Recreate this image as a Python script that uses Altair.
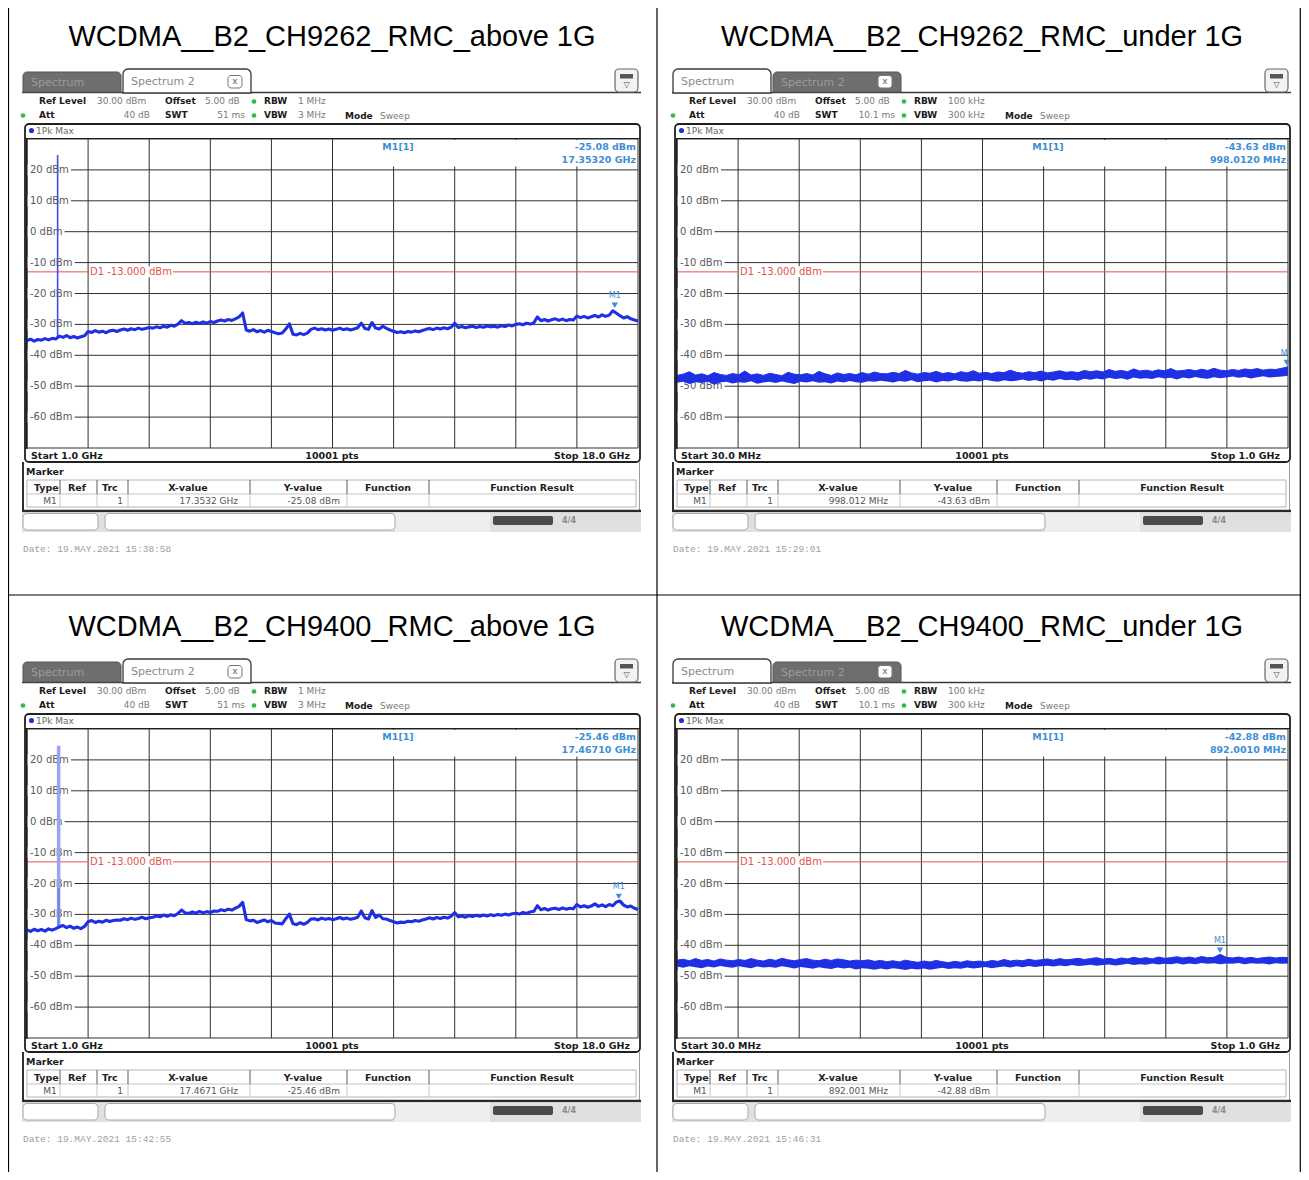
import altair as alt
import numpy as np
import pandas as pd

# ------------------------------------------------------------------ data
TITLES = ["WCDMA__B2_CH9262_RMC_above 1G", "WCDMA__B2_CH9262_RMC_under 1G",
          "WCDMA__B2_CH9400_RMC_above 1G", "WCDMA__B2_CH9400_RMC_under 1G"]
GRID_DBM = [30, 20, 10, 0, -10, -20, -30, -40, -50, -60, -70]
DBM_TICKS = [20, 10, 0, -10, -20, -30, -40, -50, -60]
LIMIT_DBM = -13.0

# Trace (1Pk Max) above 1 GHz, 1.0 .. 18.0 GHz, dBm
ABOVE_9262 = [
    -35.2, -34.8, -35.4, -34.9, -35.1, -34.6, -35.0, -34.5, -34.7,
    -33.8, -34.2, -33.6, -34.3, -33.9, -34.4, -34.0, -33.7,
    -32.3, -32.6, -32.0, -32.5, -32.2, -32.7, -32.1, -31.9, -32.3,
    -31.8, -31.5, -31.9, -31.4, -31.7, -31.2, -31.6, -31.3, -31.0,
    -31.2, -30.8, -31.1, -30.6, -30.9,
    -30.3, -30.6, -29.9, -28.8, -29.6,
    -29.4, -29.8, -29.3, -29.7, -29.2, -29.6, -29.1, -29.4,
    -28.9, -28.6, -28.9, -28.4, -28.7, -28.2, -27.6,
    -26.3,
    -31.8, -32.2, -31.7, -32.4, -32.0, -32.5, -31.9, -32.3, -32.7,
    -33.0, -32.8, -31.5,
    -29.8,
    -33.2, -33.4, -32.9, -33.3, -32.8, -31.6,
    -31.2, -31.7, -31.4, -31.8, -31.5, -31.9,
    -31.6, -31.2, -31.7, -31.4, -31.8, -31.5, -31.1,
    -29.6, -31.3, -31.6, -29.4, -31.2, -31.5, -30.6,
    -31.3, -31.8, -32.2, -32.6, -32.4, -32.7, -32.3, -32.5, -32.1,
    -32.4, -32.0, -31.6, -31.3, -31.7, -31.2, -31.5, -31.1,
    -31.4, -30.9, -29.6,
    -31.0, -30.7, -31.1, -30.8, -30.6, -31.0, -30.7, -30.9, -30.5, -30.8,
    -30.6, -30.9, -30.4, -30.7, -30.2, -30.5,
    -30.0, -29.8, -30.1, -29.6, -29.9, -29.5,
    -27.6,
    -28.8, -28.4, -28.9, -28.5, -28.2, -28.7, -28.3, -28.8, -28.4, -28.6, -27.3,
    -27.8, -27.4, -27.9, -27.5, -27.1, -27.6, -26.9,
    -27.4, -27.0, -25.6, -26.4,
    -27.2, -27.9, -27.5, -28.2, -28.6, -28.9,
]
ABOVE_9400 = [
    -35.0, -35.5, -34.8, -35.3, -34.9, -35.4, -34.7, -35.1, -34.6,
    -34.0, -33.6, -34.3, -33.8, -34.5, -34.1, -34.6, -33.9,
    -32.4, -32.0, -32.6, -32.2, -32.5, -31.9, -32.3, -32.0, -31.8,
    -31.9, -31.4, -31.7, -31.2, -31.6, -31.3, -30.9, -31.4, -31.1,
    -30.9, -30.5, -30.8, -30.2, -30.6,
    -30.1, -30.4, -29.7, -28.6, -29.5,
    -29.7, -29.2, -29.6, -29.0, -29.5, -29.1, -29.4, -28.9,
    -29.0, -28.5, -28.8, -28.3, -28.6, -28.0, -27.4,
    -26.1,
    -31.7, -32.1, -31.9, -32.6, -32.2, -31.8, -32.4, -32.0, -32.8,
    -32.9, -33.1, -31.4,
    -29.9,
    -33.0, -33.3, -32.7, -33.2, -32.6, -31.5,
    -31.4, -31.8, -31.2, -31.6, -31.3, -31.7,
    -31.4, -31.0, -31.5, -31.2, -31.6, -31.3, -30.9,
    -28.9, -31.1, -31.5, -28.8, -31.0, -30.2, -31.4,
    -31.5, -32.0, -32.4, -32.8, -32.5, -32.6, -32.2, -32.4, -32.0,
    -32.2, -31.8, -31.5, -31.1, -31.5, -31.0, -31.3, -30.9,
    -31.2, -30.6, -29.4,
    -30.8, -30.5, -30.9, -30.4, -30.7, -30.3, -30.6, -30.2, -30.5, -30.1,
    -30.4, -30.0, -30.3, -29.9, -30.2, -29.8,
    -29.6, -29.9, -29.4, -29.7, -29.2, -29.0,
    -27.2,
    -28.5, -28.1, -28.6, -28.2, -28.0, -28.4, -27.9, -28.3, -28.0, -28.2, -26.8,
    -27.6, -27.2, -27.7, -27.3, -26.6, -27.4, -26.9,
    -27.5, -26.8, -27.2, -26.0,
    -25.7, -27.0, -27.6, -27.3, -28.0, -28.4,
]
# Trace envelopes under 1 GHz, 30 .. 1000 MHz, dBm (upper / lower edge of the noise band)
UNDER_HI_9262 = [
    -46.5, -46.1, -45.3, -46.4, -46.0, -46.6, -45.6, -46.2, -46.5, -45.9,
    -46.3, -45.1, -46.4, -46.0, -46.5, -45.8, -46.2, -46.6, -45.5, -46.1,
    -46.3, -45.9, -46.4, -45.2, -46.0, -46.5, -45.7, -46.2, -45.9, -46.3,
    -45.6, -46.1, -45.4, -45.9,
    -46.0, -45.5, -45.9, -44.9, -45.7, -46.1, -45.6, -45.8, -45.2, -45.9,
    -45.6, -46.0, -45.3, -45.7, -45.0, -45.8, -45.5, -45.9, -45.4, -45.6,
    -44.8, -45.5, -45.8, -45.3, -45.6, -45.1, -45.7, -45.4, -45.0, -45.5,
    -45.3, -45.6, -44.9,
    -45.3, -45.0, -45.4, -44.6, -45.2, -44.9, -45.3, -44.4, -45.1, -44.8,
    -45.2, -44.7, -45.0, -44.3, -45.1, -44.9, -44.6, -45.0, -44.5, -44.9,
    -44.2, -44.8, -45.0, -44.6, -44.9, -44.4, -44.7, -44.3, -44.8, -44.5,
    -44.6, -44.2, -43.7,
]
UNDER_LO_9262 = [
    -48.9, -48.6, -49.3, -48.7, -49.0, -48.5, -49.5, -48.8, -48.6, -49.1,
    -48.7, -48.9, -48.4, -49.2, -48.8, -48.6, -49.0, -48.5, -48.9, -49.3,
    -48.6, -48.8, -48.4, -48.9, -48.7, -49.1, -48.5, -48.8, -48.3, -48.7,
    -48.9, -48.4, -48.6, -48.2,
    -48.5, -48.8, -48.3, -48.6, -48.1, -48.7, -48.4, -48.2, -48.8, -48.3,
    -48.5, -48.0, -48.4, -48.6, -48.2, -48.5, -47.9, -48.3, -48.6, -48.1,
    -48.4, -48.2, -47.8, -48.3, -48.0, -48.5, -47.9, -48.2, -47.7, -48.1,
    -47.9, -48.2, -47.6,
    -47.9, -47.5, -47.8, -47.3, -47.7, -47.4, -47.9, -47.2, -47.6, -47.4,
    -47.7, -47.1, -47.5, -47.3, -47.8, -47.2, -47.5, -47.0, -47.4, -47.6,
    -47.1, -47.4, -47.2, -46.9, -47.3, -47.0, -47.5, -47.1, -46.8, -47.2,
    -47.0, -46.9, -46.6,
]
UNDER_HI_9400 = [
    -44.8, -44.5, -45.0, -44.3, -44.9, -44.6, -45.1, -44.4, -44.8, -45.0,
    -44.6, -44.9, -44.3, -44.8, -45.1, -44.5, -44.9, -44.2, -44.7, -45.0,
    -44.6, -44.3, -44.8, -45.0, -44.5, -44.9, -44.4, -44.7, -45.1, -44.8,
    -45.0, -44.7, -45.2, -44.9, -45.3, -45.0, -45.4, -44.8, -45.2, -45.5,
    -45.1, -45.4, -44.9, -45.3, -45.6, -45.2, -45.5, -45.0, -45.3, -45.1,
    -45.4, -44.9, -45.2, -44.6, -45.1, -44.8, -45.0, -44.5, -44.9, -44.7,
    -44.4, -44.8, -44.3, -44.7, -44.5, -44.2, -44.6, -44.3, -44.0, -44.5,
    -44.2, -44.6, -44.1, -44.4, -43.9, -44.3, -44.0, -44.4, -43.8, -44.2,
    -44.0, -43.7, -44.1, -43.8, -44.2, -43.6, -44.0, -43.9, -42.9, -43.9,
    -44.1, -43.8, -44.2, -43.9, -44.3, -44.0, -43.8, -44.1, -43.9, -44.0,
]
UNDER_LO_9400 = [
    -46.9, -47.3, -46.8, -47.1, -47.4, -46.9, -47.2, -46.7, -47.0, -47.3,
    -46.8, -47.1, -47.4, -46.9, -47.2, -47.0, -47.3, -46.8, -47.1, -47.5,
    -47.0, -47.3, -47.6, -47.1, -47.4, -47.7, -47.2, -47.5, -47.3, -47.8,
    -47.4, -47.6, -47.9, -47.5, -47.8, -47.4, -47.7, -48.0, -47.6, -47.8,
    -47.5, -47.9, -47.6, -47.3, -47.7, -47.4, -47.6, -47.2, -47.5, -47.3,
    -47.0, -47.4, -47.1, -46.9, -47.2, -46.8, -47.1, -46.7, -47.0, -46.8,
    -46.6, -46.9, -46.5, -46.8, -46.4, -46.7, -46.5, -46.3, -46.6, -46.4,
    -46.2, -46.5, -46.3, -46.0, -46.4, -46.1, -46.3, -45.9, -46.2, -46.0,
    -46.1, -45.8, -46.2, -45.9, -46.1, -45.7, -46.0, -45.8, -46.1, -45.9,
    -46.0, -45.7, -46.1, -45.8, -46.0, -45.9, -46.2, -45.8, -46.0, -45.9,
]
SPIKE_F = [1.8524, 1.8800]      # GHz, carrier leaking into the sweep
SPIKE_PEAK = [24.8, 24.6]       # dBm
SPIKE_FOOT = [-34.6, -34.4]     # dBm
MARKER_F = [17.3532, 998.012, 17.4671, 892.001]
MARKER_DBM = [-25.08, -43.63, -25.46, -42.88]
MARKER_DBM_TXT = ["-25.08 dBm", "-43.63 dBm", "-25.46 dBm", "-42.88 dBm"]
MARKER_FREQ_TXT = ["17.35320 GHz", "998.0120 MHz", "17.46710 GHz", "892.0010 MHz"]
MARKER_X_TXT = ["17.3532 GHz", "998.012 MHz", "17.4671 GHz", "892.001 MHz"]
DATES = ["Date: 19.MAY.2021  15:38:58", "Date: 19.MAY.2021  15:29:01",
         "Date: 19.MAY.2021  15:42:55", "Date: 19.MAY.2021  15:46:31"]
FDOM_ABOVE = [1.0, 18.0]     # GHz
FDOM_UNDER = [30.0, 1000.0]  # MHz
SETTINGS_ABOVE = {"rbw": "1 MHz", "vbw": "3 MHz", "swt": "51 ms",
                  "start": "Start 1.0 GHz", "stop": "Stop 18.0 GHz"}
SETTINGS_UNDER = {"rbw": "100 kHz", "vbw": "300 kHz", "swt": "10.1 ms",
                  "start": "Start 30.0 MHz", "stop": "Stop 1.0 GHz"}

# ------------------------------------------------------------------ styling
TRACE = "#1f30e4"
SPIKE_LIGHT = "#6f7cf0"
MK = "#3d8fd4"
GRID = "#303030"
RED = "#e4534c"
GREEN = "#33b84e"
SANS = "DejaVu Sans"

ONE = pd.DataFrame({"k": [0]})
base = alt.Chart(ONE)
M = 8  # page margin


def txt(s, x, y, size=9.0, weight="normal", color="#000000", align="left", font=SANS):
    return base.mark_text(text=s, align=align, baseline="middle", fontSize=size,
                          fontWeight=weight, color=color, font=font).encode(
        x=alt.value(x - M), y=alt.value(y - M))


def box(x1, y1, x2, y2, fill=None, stroke=None, sw=1.0, radius=0, **kw):
    props = {"fill": fill if fill else "transparent"}
    if stroke:
        props["stroke"] = stroke
        props["strokeWidth"] = sw
    if radius:
        props["cornerRadius"] = radius
    props.update(kw)
    return base.mark_rect(**props).encode(
        x=alt.value(x1 - M), x2=alt.value(x2 - M), y=alt.value(y1 - M), y2=alt.value(y2 - M))


def seg(x1, y1, x2, y2, color="#000000", sw=1.0):
    return base.mark_rule(color=color, strokeWidth=sw).encode(
        x=alt.value(x1 - M), x2=alt.value(x2 - M), y=alt.value(y1 - M), y2=alt.value(y2 - M))


def dot(x, y, color, size=22):
    return base.mark_point(shape="circle", filled=True, color=color, size=size, opacity=1).encode(
        x=alt.value(x - M), y=alt.value(y - M))


def panel(i, dx, dy):
    L = []
    X = lambda x: x + dx
    Y = lambda y: y + dy
    above = i in (0, 2)
    fdom = FDOM_ABOVE if above else FDOM_UNDER
    st = SETTINGS_ABOVE if above else SETTINGS_UNDER
    xs = alt.Scale(domain=fdom, range=[X(27) - M, X(638) - M], nice=False, zero=False)
    ys = alt.Scale(domain=[GRID_DBM[-1], GRID_DBM[0]], range=[Y(448) - M, Y(139) - M],
                   nice=False, zero=False)

    # title
    L.append(txt(TITLES[i], X(332), Y(37), size=29, color="#000000", align="center",
                 font="Liberation Sans"))

    # tabs
    active_first = not above
    tab1 = (X(23), X(121))
    tab2 = (X(123), X(251))
    L.append(seg(X(22), Y(92.5), X(641), Y(92.5), "#3a3a3a", 1.5))
    for (a, b), active, label in ((tab1, active_first, "Spectrum"), (tab2, not active_first, "Spectrum 2")):
        if active:
            L.append(box(a, Y(69), b, Y(93), fill="#ffffff", stroke="#3a3a3a", sw=1.3,
                         cornerRadiusTopLeft=5, cornerRadiusTopRight=5))
            L.append(txt(label, a + 8, Y(82), size=11, color="#8a8a8a"))
        else:
            L.append(box(a, Y(72), b, Y(92), fill="#6e6e6e", stroke="#555555", sw=1,
                         cornerRadiusTopLeft=4, cornerRadiusTopRight=4))
            L.append(txt(label, a + 8, Y(82.5), size=11, color="#9c9c9c"))
    # close icon on tab 2
    L.append(box(X(228), Y(75.5), X(242), Y(88), fill="#ffffff", stroke="#777777", sw=1, radius=3))
    L.append(txt("x", X(235), Y(81), size=9, color="#666666", align="center"))
    # tool icon top-right
    L.append(box(X(615), Y(69), X(638), Y(92), fill="#f2f2f2", stroke="#666666", sw=1.2, radius=4))
    L.append(box(X(620), Y(74), X(633), Y(78.5), fill="#555555"))
    L.append(txt("\u25bd", X(626.5), Y(84.5), size=8, color="#555555", align="center"))

    # header
    gray = "#7a7a7a"
    blk = "#1a1a1a"
    L.append(txt("Ref Level", X(39), Y(101), 9, "bold", blk))
    L.append(txt("30.00 dBm", X(97), Y(101), 9, "normal", gray))
    L.append(txt("Offset", X(165), Y(101), 9, "bold", blk))
    L.append(txt("5.00 dB", X(205), Y(101), 9, "normal", gray))
    L.append(dot(X(254), Y(101.5), GREEN))
    L.append(txt("RBW", X(264), Y(101), 9, "bold", blk))
    L.append(txt(st["rbw"], X(298), Y(101), 9, "normal", gray))
    L.append(dot(X(23), Y(115.5), GREEN))
    L.append(txt("Att", X(39), Y(115), 9, "bold", blk))
    L.append(txt("40 dB", X(150), Y(115), 9, "normal", gray, align="right"))
    L.append(txt("SWT", X(165), Y(115), 9, "bold", blk))
    L.append(txt(st["swt"], X(245), Y(115), 9, "normal", gray, align="right"))
    L.append(dot(X(254), Y(115.5), GREEN))
    L.append(txt("VBW", X(264), Y(115), 9, "bold", blk))
    L.append(txt(st["vbw"], X(298), Y(115), 9, "normal", gray))
    mode_x = 345 if above else 355
    L.append(txt("Mode", X(mode_x), Y(115.5), 9, "bold", blk))
    L.append(txt("Sweep", X(mode_x + 35), Y(115.5), 9, "normal", gray))

    # plot frame (background)
    L.append(box(X(25), Y(124), X(640), Y(462), fill="#ffffff"))
    L.append(dot(X(31.5), Y(130.5), "#2233cc", 26))
    L.append(txt("1Pk Max", X(36), Y(130.5), 9, "normal", "#6a6a6a"))

    # grid
    vdf = pd.DataFrame({"f": np.linspace(fdom[0], fdom[1], 11)})
    L.append(alt.Chart(vdf).mark_rule(color=GRID, strokeWidth=1).encode(
        x=alt.X("f:Q", scale=xs, axis=None), y=alt.value(Y(139) - M), y2=alt.value(Y(448) - M)))
    hdf = pd.DataFrame({"v": GRID_DBM})
    L.append(alt.Chart(hdf).mark_rule(color=GRID, strokeWidth=1).encode(
        y=alt.Y("v:Q", scale=ys, axis=None), x=alt.value(X(27) - M), x2=alt.value(X(638) - M)))

    # y labels with white backgrounds (box starts at the grid's left edge)
    ldf = pd.DataFrame({"v": DBM_TICKS, "lab": [f"{v} dBm" for v in DBM_TICKS]})
    left = X(27) - M
    lab = alt.Chart(ldf).transform_calculate(
        sz="4.5 + 26.7 + 6.4*(length(datum.lab)-4) - (indexof(datum.lab,'-')==0 ? 2.8 : 0)"
    ).transform_calculate(cx=f"{left} + datum.sz/2")
    L.append(lab.mark_tick(orient="horizontal", thickness=11, color="#ffffff", opacity=1).encode(
        y=alt.Y("v:Q", scale=ys, axis=None), x=alt.X("cx:Q", scale=None, axis=None),
        size=alt.Size("sz:Q", scale=None, legend=None)))
    L.append(lab.mark_text(align="left", baseline="middle", fontSize=10, font=SANS,
                           color="#5a5a5a").encode(
        y=alt.Y("v:Q", scale=ys, axis=None), x=alt.value(X(30) - M), text="lab:N"))

    # limit line D1
    ddf = pd.DataFrame({"v": [LIMIT_DBM]})
    L.append(alt.Chart(ddf).mark_rule(color=RED, strokeWidth=1).encode(
        y=alt.Y("v:Q", scale=ys, axis=None), x=alt.value(X(27) - M), x2=alt.value(X(638) - M)))
    L.append(alt.Chart(ddf).mark_tick(orient="horizontal", thickness=11, size=84, color="#ffffff",
                                      opacity=1).encode(
        y=alt.Y("v:Q", scale=ys, axis=None), x=alt.value(X(131) - M)))
    L.append(alt.Chart(ddf).mark_text(text="D1  -13.000 dBm", align="left", baseline="middle",
                                      fontSize=10, font=SANS, color=RED).encode(
        y=alt.Y("v:Q", scale=ys, axis=None), x=alt.value(X(90) - M)))

    # marker readout box
    L.append(box(X(337), Y(140), X(637), Y(166.5), fill="#ffffff"))
    L.append(txt("M1[1]", X(398), Y(147), 9.5, "bold", MK, align="center"))
    L.append(txt(MARKER_DBM_TXT[i], X(636), Y(147), 9.5, "bold", MK, align="right"))
    L.append(txt(MARKER_FREQ_TXT[i], X(636), Y(160), 9.5, "bold", MK, align="right"))

    # trace
    if above:
        vals = ABOVE_9262 if i == 0 else ABOVE_9400
        tdf = pd.DataFrame({"f": np.linspace(fdom[0], fdom[1], len(vals)), "v": vals})
        k = 0 if i == 0 else 1
        sdf = pd.DataFrame({"f": [SPIKE_F[k]], "hi": [SPIKE_PEAK[k]], "lo": [SPIKE_FOOT[k]]})
        if i == 0:
            L.append(alt.Chart(sdf).mark_rule(color="#3f4fe8", strokeWidth=1.6).encode(
                x=alt.X("f:Q", scale=xs, axis=None), y=alt.Y("hi:Q", scale=ys, axis=None),
                y2="lo:Q"))
        else:
            L.append(alt.Chart(sdf).mark_rule(color="#9aa3f0", strokeWidth=3.5).encode(
                x=alt.X("f:Q", scale=xs, axis=None), y=alt.Y("hi:Q", scale=ys, axis=None),
                y2="lo:Q"))
            L.append(alt.Chart(sdf).transform_calculate(mid="-21.5").mark_rule(
                color=SPIKE_LIGHT, strokeWidth=2).encode(
                x=alt.X("f:Q", scale=xs, axis=None), y=alt.Y("mid:Q", scale=ys, axis=None),
                y2="lo:Q"))
        L.append(alt.Chart(tdf).mark_line(color=TRACE, strokeWidth=3.1, strokeJoin="round").encode(
            x=alt.X("f:Q", scale=xs, axis=None), y=alt.Y("v:Q", scale=ys, axis=None)))
    else:
        hi = UNDER_HI_9262 if i == 1 else UNDER_HI_9400
        lo = UNDER_LO_9262 if i == 1 else UNDER_LO_9400
        tdf = pd.DataFrame({"f": np.linspace(fdom[0], fdom[1], len(hi)), "hi": hi, "lo": lo})
        L.append(alt.Chart(tdf).mark_area(color=TRACE, opacity=1).encode(
            x=alt.X("f:Q", scale=xs, axis=None), y=alt.Y("hi:Q", scale=ys, axis=None),
            y2="lo:Q"))
        L.append(alt.Chart(tdf).mark_line(color=TRACE, strokeWidth=1).encode(
            x=alt.X("f:Q", scale=xs, axis=None), y=alt.Y("hi:Q", scale=ys, axis=None)))

    # marker on the trace
    mdf = pd.DataFrame({"f": [MARKER_F[i]], "v": [MARKER_DBM[i]]})
    L.append(alt.Chart(mdf).mark_point(shape="triangle-down", filled=True, size=40, color=MK,
                                       opacity=1, yOffset=-4).encode(
        x=alt.X("f:Q", scale=xs, axis=None), y=alt.Y("v:Q", scale=ys, axis=None)))
    L.append(alt.Chart(mdf).mark_text(text="M1", fontSize=8, font=SANS, color=MK, dy=-13,
                                      align="center", baseline="middle").encode(
        x=alt.X("f:Q", scale=xs, axis=None), y=alt.Y("v:Q", scale=ys, axis=None)))

    # sweep row
    L.append(box(X(25), Y(449), X(640), Y(462), fill="#ffffff"))
    L.append(txt(st["start"], X(31), Y(455.5), 9.5, "bold", blk))
    L.append(txt("10001 pts", X(332), Y(455.5), 9.5, "bold", blk, align="center"))
    L.append(txt(st["stop"], X(630), Y(455.5), 9.5, "bold", blk, align="right"))

    # plot frame outline on top (also hides marker label overflow at the right edge)
    L.append(box(X(640), Y(124), X(645), Y(462), fill="#ffffff"))
    L.append(box(X(25), Y(124), X(640), Y(462), stroke="#202020", sw=1.8, radius=4))
    L.append(seg(X(25), Y(138.5), X(640), Y(138.5), "#202020", 1.2))
    L.append(seg(X(26.5), Y(138), X(26.5), Y(449), "#202020", 2))

    # marker table
    L.append(seg(X(23), Y(462), X(23), Y(511), "#303030", 2))
    L.append(seg(X(639.5), Y(462), X(639.5), Y(511), "#9a9a9a", 1))
    L.append(txt("Marker", X(26), Y(471.5), 9.5, "bold", blk))
    L.append(box(X(27), Y(480), X(636), Y(507), fill="#ffffff", stroke="#b4b4b4", sw=1))
    L.append(seg(X(27), Y(494), X(636), Y(494), "#c4c4c4", 1))
    for sx in (60, 97, 128, 250, 347, 429):
        L.append(seg(X(sx), Y(480), X(sx), Y(494), "#777777", 1.2))
        L.append(seg(X(sx), Y(494), X(sx), Y(507), "#c8c8c8", 1))
    hb = "#222222"
    L.append(txt("Type", X(34), Y(487.5), 9.5, "bold", hb))
    L.append(txt("Ref", X(68), Y(487.5), 9.5, "bold", hb))
    L.append(txt("Trc", X(102), Y(487.5), 9.5, "bold", hb))
    L.append(txt("X-value", X(188), Y(487.5), 9.5, "bold", hb, align="center"))
    L.append(txt("Y-value", X(303), Y(487.5), 9.5, "bold", hb, align="center"))
    L.append(txt("Function", X(388), Y(487.5), 9.5, "bold", hb, align="center"))
    L.append(txt("Function Result", X(532), Y(487.5), 9.5, "bold", hb, align="center"))
    dg = "#555555"
    L.append(txt("M1", X(50), Y(500.5), 9, "normal", dg, align="center"))
    L.append(txt("1", X(123), Y(500.5), 9, "normal", dg, align="right"))
    L.append(txt(MARKER_X_TXT[i], X(238), Y(500.5), 9, "normal", dg, align="right"))
    L.append(txt(MARKER_DBM_TXT[i], X(340), Y(500.5), 9, "normal", dg, align="right"))
    L.append(seg(X(22), Y(511), X(641), Y(511), "#2a2a2a", 2.5))

    # status bar
    L.append(box(X(22), Y(512.5), X(641), Y(532), fill="#e0e0e0"))
    L.append(box(X(395), Y(512.5), X(490), Y(532), fill="#eeeeee"))
    L.append(box(X(23), Y(513.5), X(98), Y(530), fill="#ffffff", stroke="#a8a8a8", sw=1, radius=4))
    L.append(box(X(105), Y(513.5), X(395), Y(530), fill="#ffffff", stroke="#a8a8a8", sw=1, radius=4))
    L.append(box(X(493), Y(516), X(553), Y(525), fill="#4a4a4a", radius=2))
    L.append(txt("4/4", X(562), Y(520.5), 8, "bold", "#8a8a8a"))

    # date line
    L.append(txt(DATES[i], X(23), Y(548.5), 9.5, "normal", "#a0a0a0", font="Liberation Mono"))
    return L


layers = []
for idx, (dx, dy) in enumerate([(0, 0), (650, 0), (0, 590), (650, 590)]):
    layers.extend(panel(idx, dx, dy))

# outer table rules, drawn last (the right one as far right as the page allows)
layers.append(seg(8.5, 6, 8.5, 1180, "#000000", 1.2))
layers.append(seg(657, 6, 657, 1180, "#000000", 1.2))
layers.append(seg(1300.3, 6, 1300.3, 1180, "#000000", 1.2))
layers.append(seg(8, 6.5, 1301, 6.5, "#000000", 1.2))
layers.append(seg(8, 595, 1301, 595, "#000000", 1.2))

chart = alt.layer(*layers).resolve_scale(
    x="independent", y="independent"
).properties(
    width=1293, height=1164, autosize=alt.AutoSizeParams(type="none"), padding=0,
    background="#ffffff"
).configure_view(stroke=None)

chart.save("out.html", embed_options={"renderer": "svg", "actions": False})
